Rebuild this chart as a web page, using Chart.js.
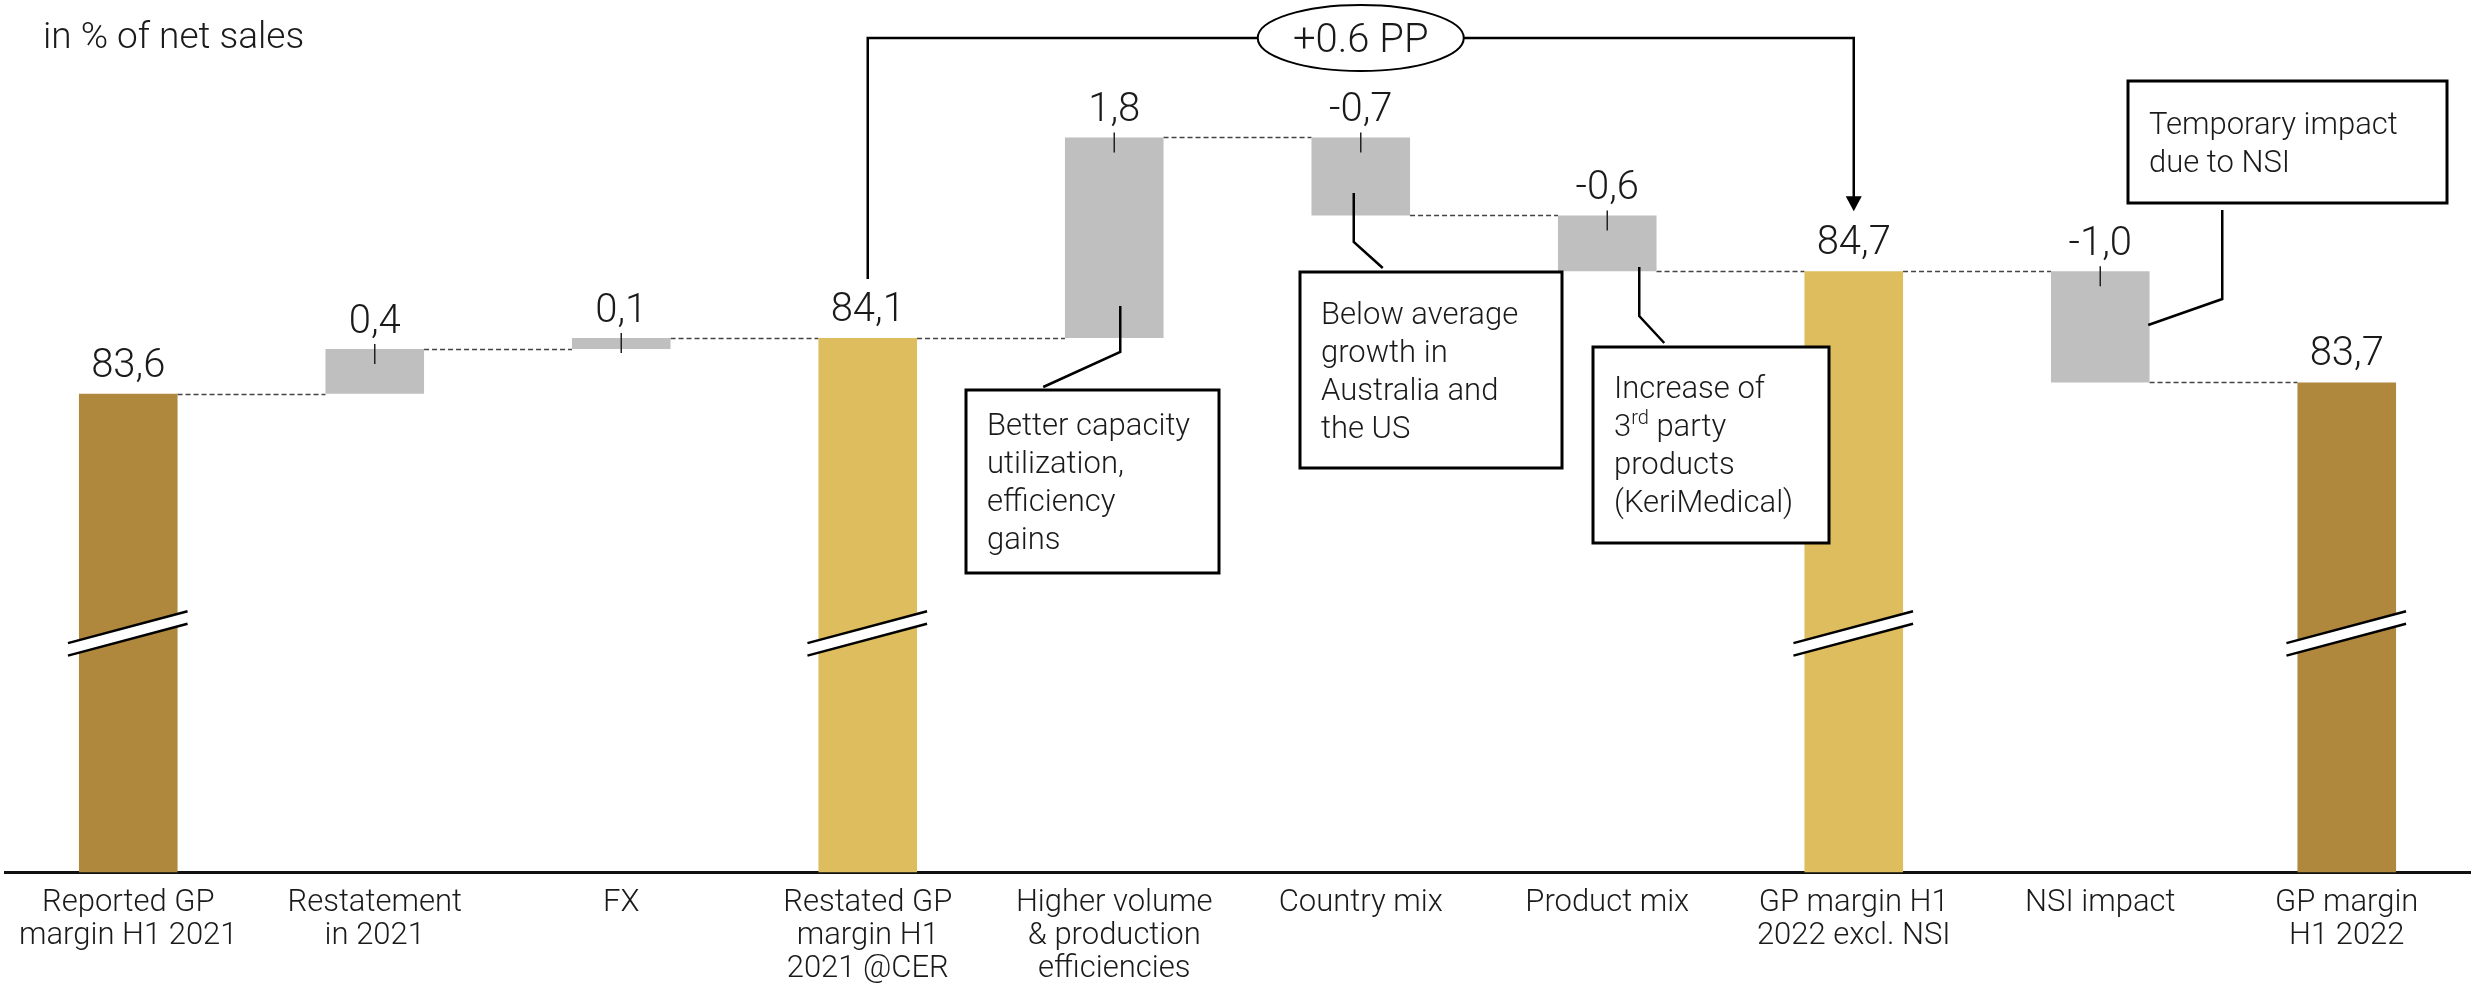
<!DOCTYPE html>
<html>
<head>
<meta charset="utf-8">
<script src="https://cdn.jsdelivr.net/npm/chart.js@4.4.1/dist/chart.umd.min.js"></script>
<style>
  html, body { margin: 0; padding: 0; background: #fff; }
  #wrap { position: relative; width: 2483px; height: 994px; }
</style>
</head>
<body>
<div id="wrap"><canvas id="gpChart"></canvas></div>
<script>
// values
const categories = [
  ["Reported GP", "margin H1 2021"],
  ["Restatement", "in 2021"],
  ["FX"],
  ["Restated GP", "margin H1", "2021 @CER"],
  ["Higher volume", "& production", "efficiencies"],
  ["Country mix"],
  ["Product mix"],
  ["GP margin H1", "2022 excl. NSI"],
  ["NSI impact"],
  ["GP margin", "H1 2022"]
];
const values = [83.6, 0.4, 0.1, 84.1, 1.8, -0.7, -0.6, 84.7, -1.0, 83.7];
const isTotal = [true, false, false, true, false, false, false, true, false, true];
const totalShade = ["dark", "", "", "light", "", "", "", "light", "", "dark"];
const axisFloor = 79.3;   // broken axis: bars start here
const axisTop = 87.0;
const breakLevel = 81.45;

const notes = [
  { lines: [["Better capacity"], ["utilization,"], ["efficiency"], ["gains"]] },
  { lines: [["Below average"], ["growth in"], ["Australia and"], ["the US"]] },
  { lines: [["Increase of"], ["3", "rd", " party"], ["products"], ["(KeriMedical)"]] },
  { lines: [["Temporary impact"], ["due to NSI"]] }
];

const DARK = "#AF873D", LIGHT = "#DEBD5E", GREY = "#BFBFBF", INK = "#1a1a1a";
const FONT = "Roboto, 'Open Sans', sans-serif";

// floating ranges for the waterfall
const ranges = [];
let level = 0;
values.forEach((v, i) => {
  if (isTotal[i]) { ranges.push([axisFloor, v]); level = v; return; }
  let end = level + v;
  if (isTotal[i + 1]) end = values[i + 1]; // rounding: let the step meet the next total
  ranges.push([level, end]);
  level = end;
});
const endLevel = ranges.map((r, i) => isTotal[i] ? values[i] : r[1]);
const colors = values.map((v, i) => isTotal[i] ? (totalShade[i] === "dark" ? DARK : LIGHT) : GREY);

const fmt = v => v.toFixed(1).replace(".", ",");

function barBox(chart, i) {
  const el = chart.getDatasetMeta(0).data[i];
  const half = el.width / 2;
  return { cx: el.x, left: el.x - half, right: el.x + half, top: Math.min(el.y, el.base), bottom: Math.max(el.y, el.base) };
}

const waterfallExtras = {
  id: "waterfallExtras",
  beforeDatasetsDraw(chart) {
    const ctx = chart.ctx, y = chart.scales.y;
    ctx.save();
    ctx.strokeStyle = "#444";
    ctx.lineWidth = 1.5;
    ctx.setLineDash([5, 3]);
    for (let i = 0; i < values.length - 1; i++) {
      const a = barBox(chart, i), b = barBox(chart, i + 1);
      const py = Math.round(y.getPixelForValue(endLevel[i])) + 0.5;
      ctx.beginPath();
      ctx.moveTo(a.right, py);
      ctx.lineTo(b.left, py);
      ctx.stroke();
    }
    ctx.restore();
  },
  afterDatasetsDraw(chart) {
    const ctx = chart.ctx, y = chart.scales.y;
    ctx.save();
    // value labels and little ticks
    ctx.fillStyle = INK;
    ctx.font = "300 40px " + FONT;
    ctx.textAlign = "center";
    ctx.textBaseline = "alphabetic";
    values.forEach((v, i) => {
      const b = barBox(chart, i);
      ctx.fillText(fmt(v), b.cx, b.top - (isTotal[i] ? 17 : 16));
      if (!isTotal[i]) {
        ctx.strokeStyle = "#222";
        ctx.lineWidth = 1.5;
        ctx.beginPath();
        ctx.moveTo(b.cx, b.top - 5);
        ctx.lineTo(b.cx, b.top + 15);
        ctx.stroke();
      }
    });
    // axis break marks on total bars
    const yb = y.getPixelForValue(breakLevel);
    const slope = 0.267;
    values.forEach((v, i) => {
      if (!isTotal[i]) return;
      const b = barBox(chart, i);
      const x1 = b.left - 11, x2 = b.right + 10;
      const up = x => yb - 6 - slope * (x - b.cx);
      const lo = x => yb + 6.5 - slope * (x - b.cx);
      ctx.fillStyle = "#fff";
      ctx.beginPath();
      ctx.moveTo(x1, up(x1)); ctx.lineTo(x2, up(x2));
      ctx.lineTo(x2, lo(x2)); ctx.lineTo(x1, lo(x1));
      ctx.closePath();
      ctx.fill();
      ctx.strokeStyle = "#000";
      ctx.lineWidth = 2.5;
      ctx.beginPath();
      ctx.moveTo(x1, up(x1)); ctx.lineTo(x2, up(x2));
      ctx.moveTo(x1, lo(x1)); ctx.lineTo(x2, lo(x2));
      ctx.stroke();
    });
    ctx.restore();
  },
  afterDraw(chart) {
    const ctx = chart.ctx;
    ctx.save();
    // title
    ctx.fillStyle = INK;
    ctx.font = "300 37px " + FONT;
    ctx.textAlign = "left";
    ctx.textBaseline = "alphabetic";
    ctx.fillText("in % of net sales", 43, 48);

    // bracket from restated 84,1 to 84,7 with +0.6 PP
    const from = barBox(chart, 3), to = barBox(chart, 7), mid = barBox(chart, 5);
    const yTop = 38;
    const startY = from.top - 17 - 29 - 13;
    const tipY = to.top - 16 - 29 - 15;
    ctx.strokeStyle = "#000";
    ctx.lineWidth = 2.5;
    ctx.beginPath();
    ctx.moveTo(from.cx, startY);
    ctx.lineTo(from.cx, yTop);
    ctx.lineTo(to.cx, yTop);
    ctx.lineTo(to.cx, tipY - 14);
    ctx.stroke();
    ctx.fillStyle = "#000";
    ctx.beginPath();
    ctx.moveTo(to.cx - 8, tipY - 15);
    ctx.lineTo(to.cx + 8, tipY - 15);
    ctx.lineTo(to.cx, tipY);
    ctx.closePath();
    ctx.fill();
    ctx.fillStyle = "#fff";
    ctx.lineWidth = 2;
    ctx.beginPath();
    ctx.ellipse(mid.cx, yTop, 103, 33, 0, 0, Math.PI * 2);
    ctx.fill();
    ctx.stroke();
    ctx.fillStyle = INK;
    ctx.font = "300 40px " + FONT;
    ctx.textAlign = "center";
    ctx.fillText("+0.6 PP", mid.cx, yTop + 14);

    // comment boxes with leaders
    const layout = [
      { box: [966, 390, 253, 183], base: 435, bar: 4, leader: [[0, 306], [0, 352], [-77, 387]], lx: 6 },
      { box: [1300, 272, 262, 196], base: 324, bar: 5, leader: [[0, 193], [0, 242], [29, 268]], lx: -7 },
      { box: [1593, 347, 236, 196], base: 398, bar: 6, leader: [[0, 267], [0, 316], [25, 343]], lx: 32 },
      { box: [2128, 81, 319, 122], base: 134, bar: 8, leader: [[0, 210], [0, 299], [-74, 325]], lx: 122 }
    ];
    layout.forEach((L, n) => {
      const [bx, by, bw, bh] = L.box;
      ctx.strokeStyle = "#000";
      ctx.lineWidth = 3;
      ctx.fillStyle = "#fff";
      ctx.fillRect(bx, by, bw, bh);
      ctx.strokeRect(bx, by, bw, bh);
      const b = barBox(chart, L.bar);
      const x0 = b.cx + L.lx;
      ctx.lineWidth = 2.5;
      ctx.beginPath();
      L.leader.forEach((p, k) => {
        const px = x0 + p[0];
        k ? ctx.lineTo(px, p[1]) : ctx.moveTo(px, p[1]);
      });
      ctx.stroke();
      ctx.fillStyle = INK;
      ctx.textAlign = "left";
      notes[n].lines.forEach((parts, r) => {
        let tx = bx + 21;
        const ty = L.base + r * 38;
        parts.forEach((t, k) => {
          const sup = parts.length > 1 && k === 1;
          ctx.font = "300 " + (sup ? 20 : 31) + "px " + FONT;
          ctx.fillText(t, tx, sup ? ty - 12 : ty);
          tx += ctx.measureText(t).width;
        });
      });
    });
    ctx.restore();
  }
};

new Chart(document.getElementById("gpChart"), {
  type: "bar",
  data: {
    labels: categories,
    datasets: [{
      data: ranges,
      backgroundColor: colors,
      borderWidth: 0,
      barPercentage: 0.4,
      categoryPercentage: 1.0
    }]
  },
  options: {
    responsive: true,
    maintainAspectRatio: false,
    animation: false,
    layout: { padding: { left: 5, right: 13, top: 15, bottom: -6 } },
    plugins: { legend: { display: false }, tooltip: { enabled: false } },
    scales: {
      x: {
        grid: { display: false, drawTicks: false },
        border: { display: true, color: "#111", width: 3 },
        ticks: {
          color: INK,
          font: { family: FONT, size: 31, weight: 300, lineHeight: 1.07 },
          padding: 14,
          maxRotation: 0,
          autoSkip: false
        }
      },
      y: { display: false, min: axisFloor, max: axisTop }
    }
  },
  plugins: [waterfallExtras]
});
</script>
</body>
</html>
